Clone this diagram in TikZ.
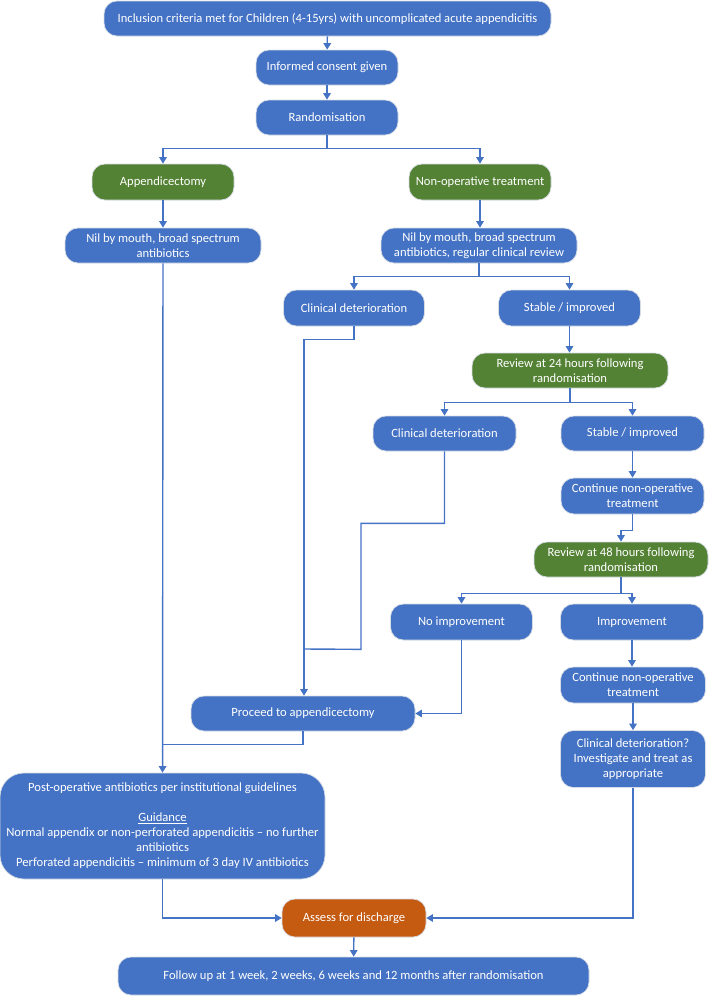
\documentclass[tikz,border=0pt]{standalone}
\usepackage{fontspec}
\setmainfont{Carlito}
\usetikzlibrary{arrows.meta}
\definecolor{boxblue}{HTML}{4472C4}
\definecolor{boxgreen}{HTML}{548235}
\definecolor{boxorange}{HTML}{C55A11}
\definecolor{linkblue}{HTML}{4472C4}
\definecolor{rimgrey}{HTML}{D6DCE5}
\begin{document}
\begin{tikzpicture}[x=1pt,y=-1pt,
  card/.style={rounded corners=13pt, fill=boxblue, draw=rimgrey, line width=0.7pt,
    text=white, align=center, inner sep=0pt, font=\fontsize{12.6}{15}\selectfont},
  bluecard/.style={card},
  greencard/.style={card, fill=boxgreen},
  orangecard/.style={card, fill=boxorange},
  link/.style={draw=linkblue, line width=1.4pt, -{Triangle[width=7.5pt,length=6.5pt]}},
  plainlink/.style={draw=linkblue, line width=1.4pt}]
\useasboundingbox (0,0) rectangle (709,996);

% trial entry
\node[bluecard, minimum width=447pt, minimum height=35pt] (top) at (327.5,18.5)
  {Inclusion criteria met for Children (4-15yrs) with uncomplicated acute appendicitis};
\node[bluecard, minimum width=142pt, minimum height=35pt] (consent) at (327,67.5)
  {Informed consent given};
\node[bluecard, minimum width=142pt, minimum height=35pt] (rand) at (327,117.5)
  {Randomisation};

% trial arms
\node[greencard, minimum width=142pt, minimum height=36pt] (appx) at (163,182)
  {Appendicectomy};
\node[greencard, minimum width=142pt, minimum height=36pt] (nonop) at (480,182)
  {Non-operative treatment};
\node[bluecard, minimum width=196pt, minimum height=35pt] (nilL) at (163,245.5)
  {Nil by mouth, broad spectrum\\antibiotics};
\node[bluecard, minimum width=196pt, minimum height=35pt] (nilR) at (479,245.5)
  {Nil by mouth, broad spectrum\\antibiotics, regular clinical review};

% first review
\node[bluecard, minimum width=141pt, minimum height=36pt] (cd1) at (354,308)
  {Clinical deterioration};
\node[bluecard, minimum width=142pt, minimum height=36pt] (st1) at (569.5,308)
  {Stable / improved};
\node[greencard, minimum width=196pt, minimum height=35pt] (r24) at (570,370.5)
  {Review at 24 hours following\\randomisation};
\node[bluecard, minimum width=143pt, minimum height=35pt] (cd2) at (444.5,433.5)
  {Clinical deterioration};
\node[bluecard, minimum width=143pt, minimum height=35pt] (st2) at (632.5,433.5)
  {Stable / improved};
\node[bluecard, minimum width=143pt, minimum height=36pt] (cont1) at (632.5,496)
  {Continue non-operative\\treatment};

% second review
\node[greencard, minimum width=174pt, minimum height=35pt] (r48) at (621,559.5)
  {Review at 48 hours following\\randomisation};
\node[bluecard, minimum width=142pt, minimum height=36pt] (noimp) at (461.5,622)
  {No improvement};
\node[bluecard, minimum width=143pt, minimum height=36pt] (imp) at (632,622)
  {Improvement};
\node[bluecard, minimum width=145pt, minimum height=36pt] (cont2) at (633,685)
  {Continue non-operative\\treatment};
\node[bluecard, minimum width=145pt, minimum height=57pt] (cdq) at (633,759)
  {Clinical deterioration?\\Investigate and treat as\\appropriate};

% surgery and follow-up
\node[bluecard, minimum width=224pt, minimum height=35pt] (proceed) at (303,713.5)
  {Proceed to appendicectomy};
\node[bluecard, rounded corners=24pt, minimum width=325pt, minimum height=106pt] (postop) at (162.5,826)
  {Post-operative antibiotics per institutional guidelines\\[15pt]
   \underline{Guidance}\\
   Normal appendix or non-perforated appendicitis -- no further\\
   antibiotics\\
   Perforated appendicitis -- minimum of 3 day IV antibiotics};
\node[orangecard, minimum width=144pt, minimum height=38pt] (assess) at (354,918)
  {Assess for discharge};
\node[bluecard, minimum width=471pt, minimum height=38pt] (follow) at (353.5,976)
  {Follow up at 1 week, 2 weeks, 6 weeks and 12 months after randomisation};

% junction points on shared trunks
\coordinate (trunkA) at (304,649);
\coordinate (trunkB) at (163,744);

% connectors
\draw[link] (top) -- (consent);
\draw[link] (consent) -- (rand);
\draw[link] (rand.south) -- ++(0,13) -| (appx.north);
\draw[link] (rand.south) -- ++(0,13) -| (nonop.north);
\draw[link] (appx) -- (nilL);
\draw[link] (nonop.south) -- (nonop.south |- nilR.north);
\draw[link] (nilR.south) -- ++(0,13) -| (cd1.north);
\draw[link] (nilR.south) -- ++(0,13) -| (st1.north);
\draw[link] (st1.south) -- (st1.south |- r24.north);
\draw[link] (r24.south) -- ++(0,14) -| (cd2.north);
\draw[link] (r24.south) -- ++(0,14) -| (st2.north);
\draw[link] (st2) -- (cont1);
\draw[link] (cont1.south) -- ++(0,16) -| (r48.north);
\draw[link] (r48.south) -- ++(0,16) -| (noimp.north);
\draw[link] (r48.south) -- ++(0,16) -| (imp.north);
\draw[link] (imp.south) -- (imp.south |- cont2.north);
\draw[link] (cont2) -- (cdq);

\draw[link] (cd1.south) -- ++(0,13) -| (proceed.north -| trunkA);
\draw[plainlink] (cd2.south) -- ++(0,72) -| ++(-83.5,126) -- (trunkA);
\draw[link] (noimp.south) |- (proceed.east);
\draw[plainlink] (proceed.south) -- ++(0,13) -| (trunkB);
\draw[link] (nilL) -- (postop);
\draw[link] (postop.south) |- (assess.west);
\draw[link] (cdq.south) |- (assess.east);
\draw[link] (assess) -- (follow);
\end{tikzpicture}
\end{document}
